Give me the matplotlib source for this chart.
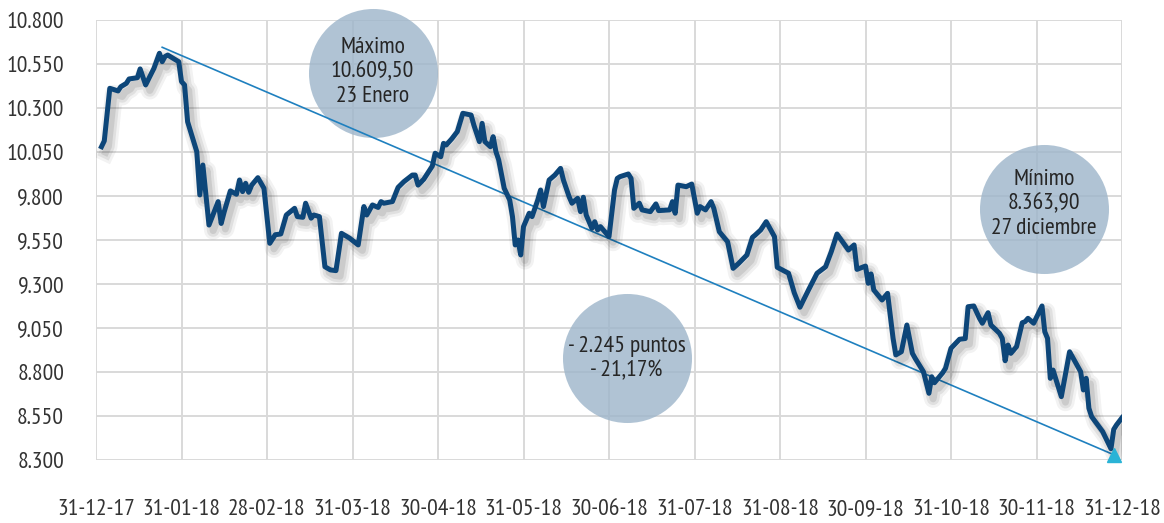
import matplotlib
matplotlib.use('Agg')
import matplotlib.pyplot as plt
import matplotlib.patheffects as pe
from matplotlib.ticker import FuncFormatter
import pandas as pd

plt.rcParams['font.family'] = ['PT Sans Narrow', 'Roboto Condensed', 'Roboto', 'DejaVu Sans']

# IBEX 35 close, 2018
days = [
    '01-02', '01-03', '01-05', '01-08', '01-09', '01-11', '01-12', '01-15', '01-16', '01-18',
    '01-21', '01-23', '01-24', '01-25', '01-26', '01-30', '01-31', '02-01', '02-02', '02-05',
    '02-06', '02-07', '02-08', '02-09', '02-12', '02-13', '02-14', '02-16', '02-18', '02-19',
    '02-20', '02-21', '02-22', '02-23', '02-25', '02-27', '03-01', '03-03', '03-05', '03-07',
    '03-10', '03-11', '03-13', '03-14', '03-16', '03-17', '03-19', '03-21', '03-23', '03-25',
    '03-27', '03-30', '04-02', '04-04', '04-05', '04-07', '04-09', '04-10', '04-11', '04-14',
    '04-16', '04-18', '04-21', '04-22', '04-23', '04-25', '04-28', '04-29', '05-01', '05-02',
    '05-03', '05-05', '05-07', '05-09', '05-12', '05-13', '05-15', '05-16', '05-17', '05-19',
    '05-20', '05-21', '05-22', '05-24', '05-26', '05-27', '05-28', '05-29', '05-30', '05-31',
    '06-02', '06-03', '06-05', '06-06', '06-07', '06-09', '06-11', '06-13', '06-14', '06-16',
    '06-17', '06-19', '06-20', '06-21', '06-22', '06-24', '06-25', '06-26', '06-27', '06-30',
    '07-02', '07-03', '07-04', '07-07', '07-08', '07-09', '07-11', '07-12', '07-15', '07-17',
    '07-18', '07-22', '07-23', '07-24', '07-25', '07-28', '07-30', '08-01', '08-02', '08-04',
    '08-06', '08-07', '08-09', '08-12', '08-14', '08-16', '08-19', '08-21', '08-22', '08-24',
    '08-26', '08-29', '08-30', '09-02', '09-03', '09-05', '09-07', '09-10', '09-13', '09-16',
    '09-18', '09-20', '09-24', '09-26', '09-27', '09-30', '10-01', '10-02', '10-03', '10-06',
    '10-08', '10-10', '10-11', '10-13', '10-15', '10-17', '10-18', '10-21', '10-23', '10-24',
    '10-25', '10-28', '10-29', '10-31', '11-03', '11-05', '11-06', '11-08', '11-10', '11-11',
    '11-13', '11-14', '11-17', '11-18', '11-19', '11-20', '11-21', '11-23', '11-25', '11-26',
    '11-27', '11-29', '12-02', '12-03', '12-04', '12-05', '12-06', '12-09', '12-12', '12-16',
    '12-17', '12-18', '12-19', '12-20', '12-24', '12-27', '12-28', '12-29', '12-31',
]
ibex = [
    10080, 10113, 10412, 10397, 10421, 10440, 10465, 10472, 10522, 10431,
    10525, 10611, 10563, 10592, 10601, 10563, 10450, 10431, 10222, 10052,
    9806, 9976, 9806, 9635, 9768, 9644, 9711, 9829, 9810, 9891,
    9825, 9872, 9821, 9862, 9904, 9844, 9531, 9580, 9584, 9692,
    9730, 9683, 9679, 9759, 9674, 9692, 9683, 9398, 9380, 9376,
    9588, 9560, 9522, 9740, 9692, 9749, 9735, 9768, 9759, 9768,
    9849, 9881, 9919, 9919, 9862, 9895, 9970, 10043, 10023, 10099,
    10090, 10125, 10166, 10270, 10260, 10203, 10109, 10213, 10109, 10080,
    10137, 10052, 10005, 9844, 9777, 9683, 9522, 9550, 9465, 9626,
    9702, 9683, 9777, 9834, 9740, 9891, 9919, 9957, 9891, 9796,
    9759, 9787, 9711, 9793, 9692, 9616, 9654, 9607, 9626, 9569,
    9834, 9900, 9910, 9925, 9900, 9730, 9759, 9721, 9711, 9755,
    9717, 9721, 9768, 9702, 9862, 9853, 9868, 9702, 9740, 9721,
    9768, 9730, 9597, 9540, 9389, 9417, 9465, 9565, 9578, 9607,
    9654, 9569, 9395, 9370, 9361, 9250, 9168, 9266, 9361, 9398,
    9484, 9584, 9493, 9522, 9383, 9402, 9304, 9357, 9266, 9209,
    9247, 8991, 8897, 8915, 9067, 8906, 8878, 8802, 8679, 8773,
    8739, 8796, 8821, 8935, 8986, 8990, 9171, 9175, 9105, 9077,
    9137, 9067, 9020, 8991, 8864, 8953, 8906, 8944, 9080, 9086,
    9105, 9077, 9175, 9029, 8991, 8764, 8811, 8660, 8915, 8802,
    8698, 8764, 8594, 8546, 8461, 8364, 8474, 8499, 8540,
]

month_labels = ['31-12-17', '31-01-18', '28-02-18', '31-03-18', '30-04-18', '31-05-18',
                '30-06-18', '31-07-18', '31-08-18', '30-09-18', '31-10-18', '30-11-18',
                '31-12-18']

trend_days = ['01-24', '12-28']
trend_vals = [10645, 8330]

max_text = 'Máximo\n10.609,50\n23 Enero'
min_text = 'Mínimo\n8.363,90\n27 diciembre'
change_text = '- 2.245 puntos\n- 21,17%'


def month_pos(day_strings):
    # each month gets the same width on the axis, like the original chart
    d = pd.to_datetime(['2018-' + s for s in day_strings])
    return (d.month - 1 + d.day / d.days_in_month).to_numpy()


x = month_pos(days)
tx = month_pos(trend_days)

fig = plt.figure(figsize=(11.64, 5.23), dpi=100)
ax = fig.add_axes([96 / 1164, 63 / 523, 1026 / 1164, 440 / 523])

ax.set_xlim(0, 12)
ax.set_ylim(8300, 10800)
ax.set_xticks(range(13))
ax.set_xticklabels(month_labels)
ax.set_yticks(range(8300, 10801, 250))
ax.yaxis.set_major_formatter(FuncFormatter(lambda v, p: f'{v:,.0f}'.replace(',', '.')))
ax.grid(True, color='#d9d9d9', linewidth=1.4, zorder=0)
ax.set_axisbelow(True)
for s in ax.spines.values():
    s.set_visible(False)
ax.tick_params(length=0, labelsize=17, colors='#333333')
ax.tick_params(axis='x', pad=28)
ax.tick_params(axis='y', pad=23)

# bubbles
bubble = dict(s=8630, color='#9db5ca', alpha=0.8, linewidths=0, zorder=2, clip_on=False)
ax.scatter([3.234], [10499], **bubble)
ax.scatter([11.088], [9726], **bubble)
ax.scatter([6.205], [8877], **bubble)
txt = dict(ha='center', va='center', fontsize=17, color='#262626', zorder=6, linespacing=1.2)
ax.text(3.234, 10505, max_text, **txt)
ax.text(11.088, 9755, min_text, **txt)
ax.text(6.205, 8877, change_text, **txt)

# trend line max -> min
ax.plot(tx, trend_vals, color='#1f80bf', lw=1.2, zorder=3)
ax.plot(tx[-1:], trend_vals[-1:], marker='^', ms=10, color='#2ab3d6', ls='none', zorder=5,
        clip_on=False)

# soft drop shadow under the index line
shadow = [
    pe.SimpleLineShadow(offset=(3, -4), shadow_color='k', alpha=0.05, linewidth=13),
    pe.SimpleLineShadow(offset=(3, -4), shadow_color='k', alpha=0.07, linewidth=9),
    pe.SimpleLineShadow(offset=(3, -4), shadow_color='k', alpha=0.09, linewidth=5),
    pe.Normal(),
]
ax.plot(x, ibex, color='#0d4679', lw=3.6, zorder=4, solid_joinstyle='round',
        path_effects=shadow)

fig.savefig('out.png', dpi=100)
